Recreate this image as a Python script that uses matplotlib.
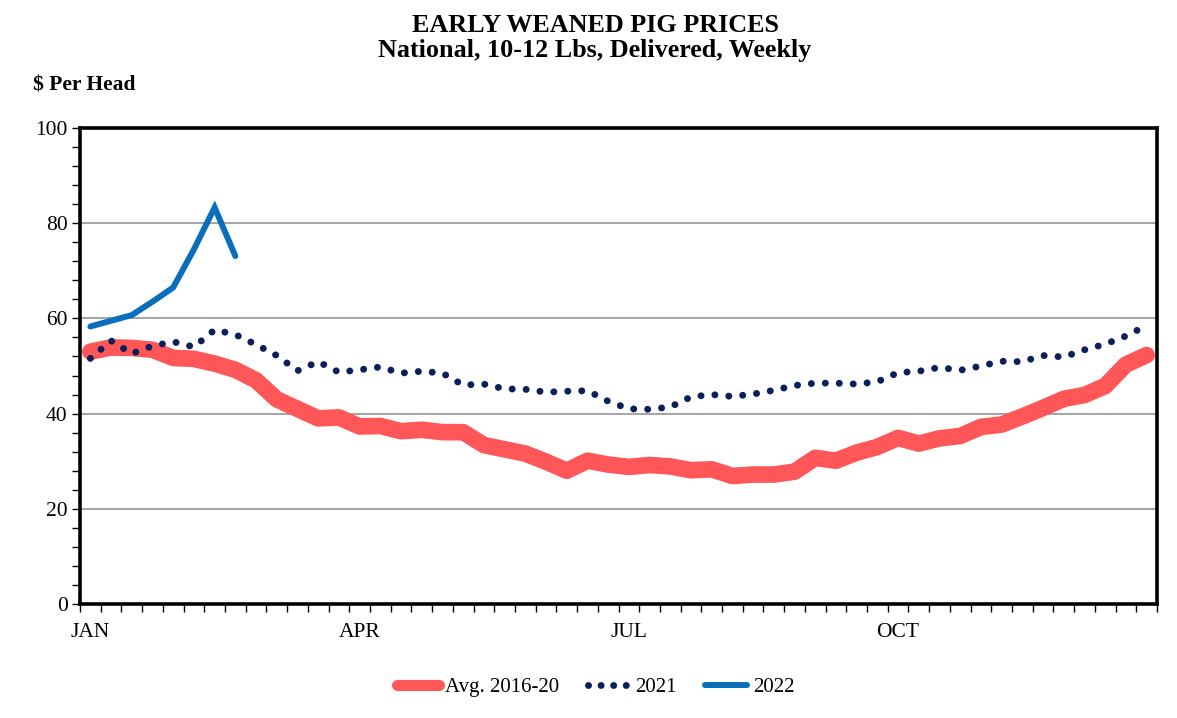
import matplotlib
matplotlib.use("Agg")
import matplotlib.pyplot as plt
from matplotlib.ticker import FixedLocator, MultipleLocator
from matplotlib.lines import Line2D
import numpy as np

plt.rcParams['font.family'] = ['Liberation Serif', 'DejaVu Serif']

months = ["JAN", "APR", "JUL", "OCT"]
month_pos = [0, 13, 26, 39]

avg_2016_20 = [53.0, 53.9, 53.8, 53.4, 51.7, 51.5, 50.5, 49.2, 47.0, 43.0,
               41.0, 39.0, 39.2, 37.3, 37.4, 36.3, 36.6, 36.1, 36.1, 33.4,
               32.5, 31.6, 29.9, 28.0, 30.1, 29.3, 28.8, 29.2, 28.9, 28.1,
               28.3, 26.9, 27.2, 27.2, 27.8, 30.7, 30.1, 31.8, 33.0, 34.9,
               33.7, 34.8, 35.3, 37.2, 37.7, 39.4, 41.2, 43.1, 43.9, 45.8,
               50.3, 52.3]
y2021 = [51.6, 55.3, 52.6, 54.2, 55.1, 54.0, 57.6, 56.6, 54.5, 52.2,
         49.0, 50.9, 48.7, 49.2, 49.8, 48.5, 48.9, 48.5, 46.0, 46.2,
         45.2, 45.1, 44.5, 44.7, 44.8, 42.6, 41.0, 40.9, 41.4, 43.5,
         44.0, 43.6, 44.1, 44.9, 45.9, 46.4, 46.4, 46.2, 46.7, 48.6,
         48.9, 49.7, 49.1, 50.0, 51.0, 50.9, 52.2, 51.9, 53.4, 54.6,
         56.3, 58.5]
y2022 = [58.3, 59.5, 60.7, 63.5, 66.5, 74.5, 83.3, 73.1]

RED = '#FF5757'
NAVY = '#0B1F5A'
BLUE = '#0A6EBD'

fig = plt.figure(figsize=(11.77, 7.18), dpi=100)
ax = fig.add_axes([80/1177, 1-604/718, 1077/1177, 476/718])

x_avg = np.arange(len(avg_2016_20))
x21 = np.arange(len(y2021))
x22 = np.arange(len(y2022))

DOTS = (0, (0.01, 2.0))
ax.plot(x_avg, avg_2016_20, color=RED, lw=12, solid_capstyle='round',
        solid_joinstyle='round', zorder=3)
ax.plot(x21, y2021, color=NAVY, lw=5.0, linestyle=DOTS,
        dash_capstyle='round', zorder=4)
ax.plot(x22, y2022, color=BLUE, lw=4.3, solid_capstyle='round',
        solid_joinstyle='miter', zorder=5)

ax.set_xlim(-0.5, 51.5)
ax.set_ylim(0, 100)

ax.yaxis.set_major_locator(MultipleLocator(20))
ax.yaxis.set_minor_locator(MultipleLocator(4))
ax.grid(axis='y', which='major', color='#8c8c8c', lw=1.1, zorder=1)
ax.tick_params(axis='y', which='both', direction='out', length=6, width=1,
               labelsize=15.5, pad=3)

ax.xaxis.set_major_locator(FixedLocator(month_pos))
ax.set_xticklabels(months)
ax.xaxis.set_minor_locator(FixedLocator(np.arange(-0.5, 52, 1.0)))
ax.tick_params(axis='x', which='major', length=0, labelsize=15.5, pad=14)
ax.tick_params(axis='x', which='minor', direction='out', length=6, width=1)

for s in ax.spines.values():
    s.set_linewidth(2.6)
    s.set_color('black')
    s.set_zorder(6)

fig.text(596/1177, 1-26/718, "EARLY WEANED PIG PRICES", ha='center', va='center',
         fontsize=18.8, fontweight='bold')
fig.text(595/1177, 1-51/718, "National, 10-12 Lbs, Delivered, Weekly", ha='center',
         va='center', fontsize=18.8, fontweight='bold')
fig.text(33/1177, 1-86/718, "$ Per Head", ha='left', va='center',
         fontsize=15.5, fontweight='bold')

handles = [
    Line2D([], [], color=RED, lw=8, solid_capstyle='round'),
    Line2D([], [], color=NAVY, lw=5.0, linestyle=(0, (0.01, 1.8)),
           dash_capstyle='round'),
    Line2D([], [], color=BLUE, lw=4.3, solid_capstyle='round'),
]
labels = ['Avg. 2016-20', '2021', '2022']
fig.legend(handles, labels, loc='center', bbox_to_anchor=(596/1177, 1-687/718),
           ncol=3, frameon=False, fontsize=15, handlelength=2.0,
           handletextpad=0.3, columnspacing=1.35)

fig.savefig("out.png", dpi=100)
